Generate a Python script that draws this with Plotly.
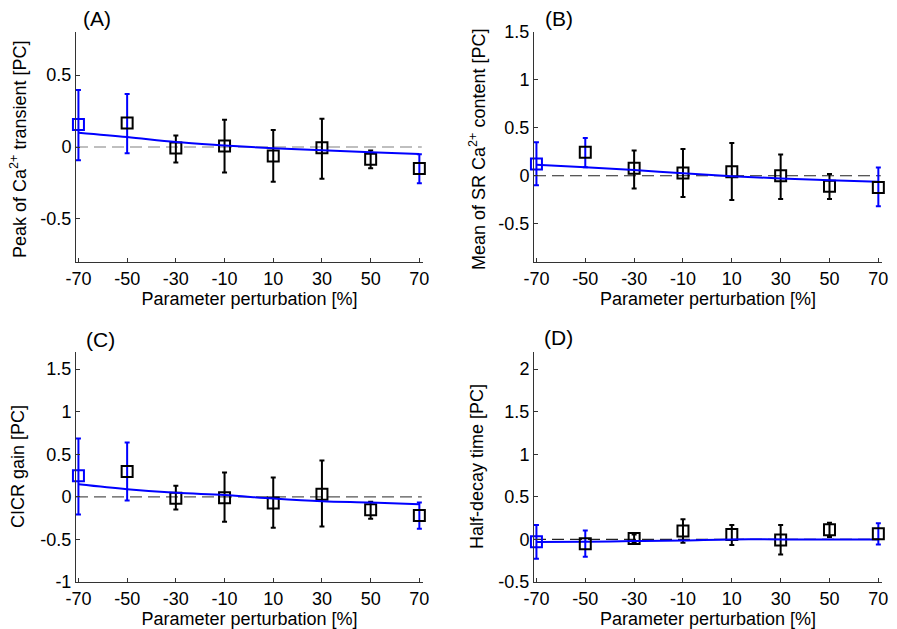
import plotly.graph_objects as go

x_vals = [-70, -50, -30, -10, 10, 30, 50, 70]

# Panel A: Peak of Ca2+ transient
a_mean = [0.156, 0.167, -0.007, 0.007, -0.062, -0.005, -0.085, -0.149]
a_upper = [0.397, 0.369, 0.080, 0.190, 0.119, 0.197, -0.025, -0.050]
a_lower = [-0.092, -0.044, -0.108, -0.177, -0.241, -0.220, -0.147, -0.252]
a_fit = [0.099, 0.069, 0.034, 0.011, -0.009, -0.023, -0.037, -0.048]

# Panel B: Mean of SR Ca2+ content
b_mean = [0.123, 0.246, 0.077, 0.028, 0.042, 0.000, -0.109, -0.123]
b_upper = [0.349, 0.394, 0.264, 0.278, 0.342, 0.222, 0.018, 0.085]
b_lower = [-0.099, 0.088, -0.134, -0.222, -0.254, -0.243, -0.243, -0.317]
b_fit = [0.116, 0.088, 0.060, 0.025, -0.004, -0.028, -0.046, -0.063]

# Panel C: CICR gain
c_mean = [0.246, 0.297, -0.016, -0.012, -0.074, 0.031, -0.152, -0.219]
c_upper = [0.684, 0.637, 0.129, 0.285, 0.227, 0.426, -0.059, -0.066]
c_lower = [-0.207, -0.043, -0.148, -0.293, -0.363, -0.348, -0.258, -0.375]
c_fit = [0.148, 0.090, 0.047, 0.020, -0.020, -0.051, -0.066, -0.086]

# Panel D: Half-decay time
d_mean = [-0.027, -0.051, 0.012, 0.098, 0.059, -0.008, 0.113, 0.066]
d_upper = [0.168, 0.105, 0.059, 0.238, 0.168, 0.168, 0.195, 0.191]
d_lower = [-0.227, -0.203, -0.043, -0.039, -0.066, -0.176, 0.027, -0.059]
d_fit = [-0.031, -0.027, -0.020, -0.012, 0.000, 0.000, 0.000, 0.000]

y_titles = ["Peak of Ca<sup>2+</sup> transient [PC]",
            "Mean of SR Ca<sup>2+</sup> content [PC]",
            "CICR gain [PC]",
            "Half-decay time [PC]"]
panel_labels = ["(A)", "(B)", "(C)", "(D)"]
y_ranges = [[-0.8, 0.8], [-0.9, 1.5], [-1.0, 1.7], [-0.5, 2.2]]
y_ticks = [[-0.5, 0, 0.5], [-0.5, 0, 0.5, 1, 1.5],
           [-1, -0.5, 0, 0.5, 1, 1.5], [-0.5, 0, 0.5, 1, 1.5, 2]]
y_ticktext = [["-0.5", "0", "0.5"], ["-0.5", "0", "0.5", "1", "1.5"],
              ["-1", "-0.5", "0", "0.5", "1", "1.5"],
              ["-0.5", "0", "0.5", "1", "1.5", "2"]]
zero_colors = ["#808080", "#222222", "#555555", "#222222"]

panels = [(a_mean, a_upper, a_lower, a_fit),
          (b_mean, b_upper, b_lower, b_fit),
          (c_mean, c_upper, c_lower, c_fit),
          (d_mean, d_upper, d_lower, d_fit)]

W, H = 897, 629
x_doms = [[76 / W, 423 / W], [534 / W, 882 / W], [76 / W, 423 / W], [534 / W, 882 / W]]
y_doms = [[1 - 262 / H, 1 - 32 / H], [1 - 262 / H, 1 - 32 / H],
          [1 - 582 / H, 1 - 352 / H], [1 - 582 / H, 1 - 352 / H]]

BLUE = "#0000ff"
FONT = "Liberation Sans, Arial, sans-serif"
FS = 18

fig = go.Figure()
blue_idx = [0, 1, 7]
black_idx = [2, 3, 4, 5, 6]

for i, (mean, up, lo, fit) in enumerate(panels):
    xa = "x" if i == 0 else f"x{i+1}"
    ya = "y" if i == 0 else f"y{i+1}"
    fig.add_trace(go.Scatter(x=[-71, 71], y=[0, 0], mode="lines",
                             line=dict(color=zero_colors[i], width=1.2, dash="12px,6px"),
                             xaxis=xa, yaxis=ya, showlegend=False, hoverinfo="skip"))
    fig.add_trace(go.Scatter(
        x=[x_vals[k] for k in black_idx], y=[mean[k] for k in black_idx], mode="markers",
        marker=dict(symbol="square-open", size=11, color="black", line=dict(width=2)),
        error_y=dict(type="data", symmetric=False,
                     array=[up[k] - mean[k] for k in black_idx],
                     arrayminus=[mean[k] - lo[k] for k in black_idx],
                     color="black", thickness=2, width=2.5),
        xaxis=xa, yaxis=ya, showlegend=False))
    fig.add_trace(go.Scatter(x=x_vals, y=fit, mode="lines", line=dict(color=BLUE, width=2, shape="spline"),
                             xaxis=xa, yaxis=ya, showlegend=False))
    fig.add_trace(go.Scatter(
        x=[x_vals[k] for k in blue_idx], y=[mean[k] for k in blue_idx], mode="markers",
        marker=dict(symbol="square-open", size=11, color=[BLUE, "black", "black"], line=dict(width=2)),
        error_y=dict(type="data", symmetric=False,
                     array=[up[k] - mean[k] for k in blue_idx],
                     arrayminus=[mean[k] - lo[k] for k in blue_idx],
                     color=BLUE, thickness=2, width=2.5),
        xaxis=xa, yaxis=ya, showlegend=False, cliponaxis=False))

layout = dict(width=W, height=H, margin=dict(l=0, r=0, t=0, b=0, autoexpand=False),
              plot_bgcolor="white", paper_bgcolor="white",
              font=dict(family=FONT, size=FS, color="black"))
for i in range(4):
    sx = "" if i == 0 else str(i + 1)
    layout[f"xaxis{sx}"] = dict(domain=x_doms[i], range=[-71, 71.5], automargin=False,
                                tickvals=x_vals, ticktext=[str(v) for v in x_vals],
                                ticks="inside", ticklen=4, tickcolor="#333",
                                showline=True, linecolor="#333", linewidth=1,
                                showgrid=False, zeroline=False, anchor="y" + sx,
                                title=dict(text="Parameter perturbation [%]", standoff=0,
                                           font=dict(size=FS)),
                                tickfont=dict(size=FS))
    layout[f"yaxis{sx}"] = dict(domain=y_doms[i], range=y_ranges[i], automargin=False,
                                tickvals=y_ticks[i], ticktext=y_ticktext[i],
                                ticks="inside", ticklen=4, tickcolor="#333",
                                showline=True, linecolor="#333", linewidth=1,
                                showgrid=False, zeroline=False, anchor="x" + sx,
                                tickfont=dict(size=FS))
fig.update_layout(**layout)

title_x = [18 / W, 477 / W, 18 / W, 477 / W]
title_y = [150 / H, 150 / H, 467 / H, 467 / H]
label_pos = [(97, 19), (559, 19), (100, 339), (558, 337)]
for i in range(4):
    fig.add_annotation(text=y_titles[i], textangle=-90, x=title_x[i], y=1 - title_y[i],
                       xref="paper", yref="paper", showarrow=False,
                       font=dict(size=FS), xanchor="center", yanchor="middle")
    lx, ly = label_pos[i]
    fig.add_annotation(text=panel_labels[i], x=lx / W, y=1 - ly / H, xref="paper", yref="paper",
                       showarrow=False, font=dict(size=21), xanchor="center", yanchor="middle")

fig.write_html("out.html", config={"displayModeBar": False},
               post_script="document.body.style.margin='0';document.body.style.overflow='hidden';")
